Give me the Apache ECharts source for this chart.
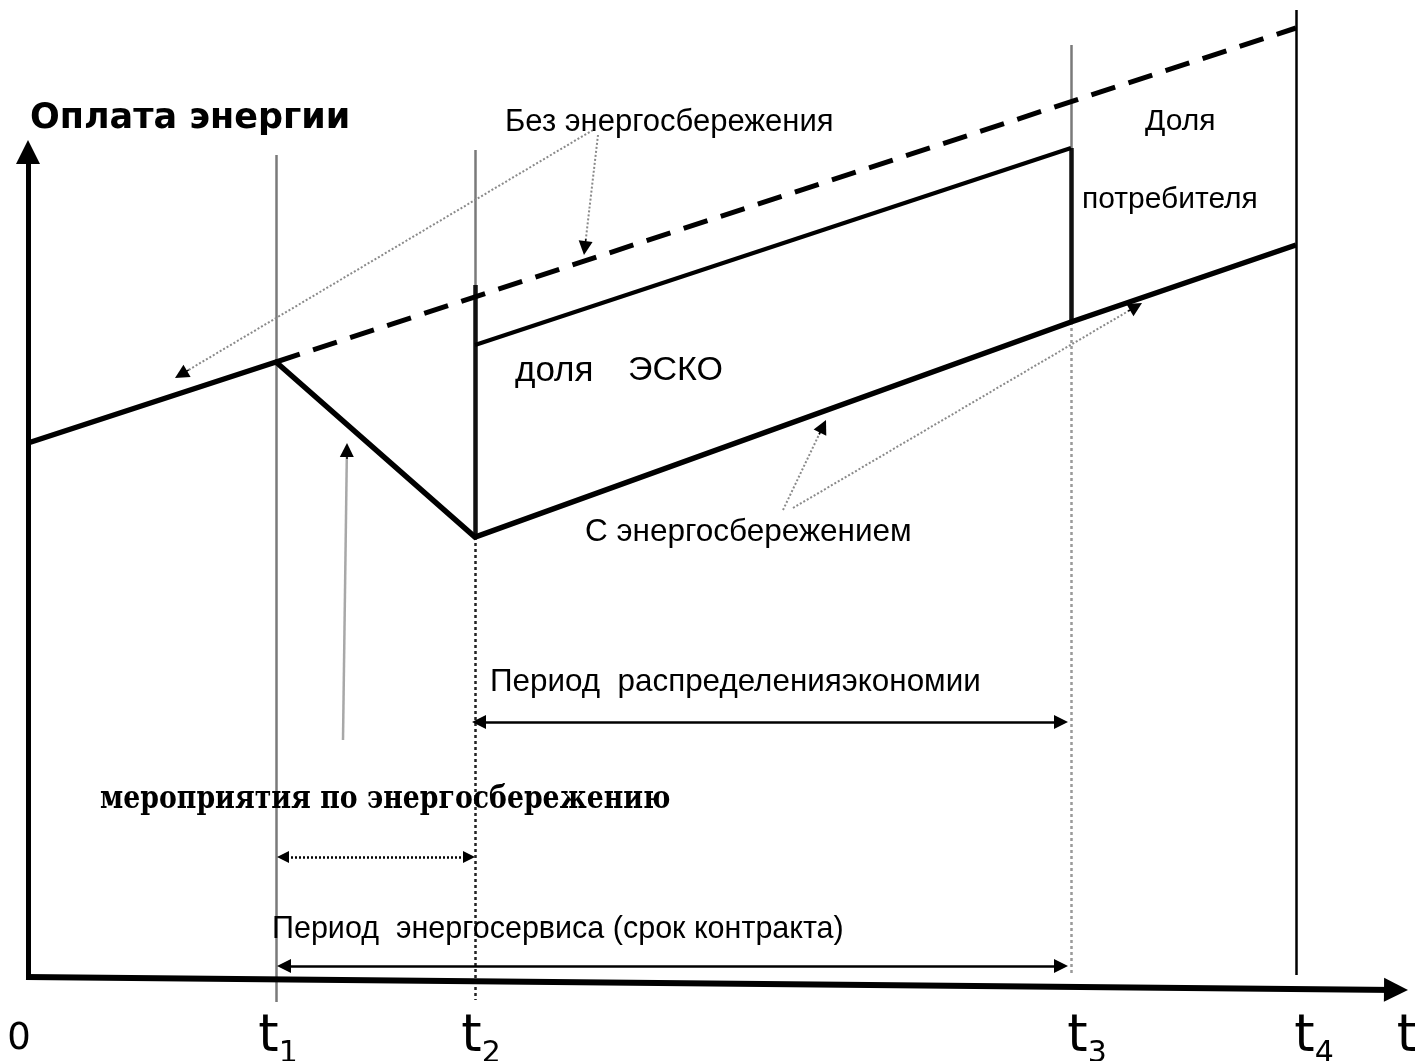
<!DOCTYPE html>
<html><head><meta charset="utf-8">
<script src="https://cdn.jsdelivr.net/npm/echarts@6/dist/echarts.min.js"></script>
<style>html,body{margin:0;padding:0;background:#fff}#c{width:1415px;height:1061px}</style>
</head><body><div id="c"></div>
<script>
// ---- data (x: time units, y: payment units) ----
const tickLabels = ['0', 't1', 't2', 't3', 't4', 't'];
const tickLabelAt = [-0.9, 25.0, 45.3, 105.9, 128.6, 137.9];
const momentNames = ['t1', 't2', 't3', 't4'];
const moments = [24.8, 44.7, 104.3, 126.8];
const withSavingX = [0, 24.8, 44.7, 104.3, 126.8];
const withSavingY = [53.2, 61.3, 43.8, 65.3, 73.0];
const noSavingX = [24.8, 126.8];
const noSavingY = [61.3, 94.7];
const escoTopX = [44.7, 104.3];
const escoTopY = [63.0, 82.7];
const shareJumpTop = [69.0, 82.7];     // at t2, t3
const shareJumpBottom = [43.8, 65.3];  // at t2, t3

// ---- layout of guides / annotations (not data) ----
const guideTop = [82.0, 82.5, 93.0, 96.5];
const guideBottom = [-2.7, -2.5, 0, 0];
const pointers = [
  {from: [56.5, 84.5], to: [14.7, 59.7], dotted: true},
  {from: [57.0, 84.0], to: [55.6, 72.0], dotted: true},
  {from: [31.5, 23.5], to: [31.9, 53.2], dotted: false},
  {from: [75.5, 46.5], to: [79.8, 55.5], dotted: true},
  {from: [76.5, 46.7], to: [111.4, 67.2], dotted: true}
];

const pair = (xs, ys) => xs.map((x, i) => [x, ys[i]]);
function back(p0, p1, d) {
  const dx = p1[0] - p0[0], dy = p1[1] - p0[1], L = Math.hypot(dx, dy);
  return [p1[0] - dx / L * d, p1[1] - dy / L * d];
}
function dbl(a, b, d) { return {coords: [back(b, a, d), back(a, b, d)]}; }

const chart = echarts.init(document.getElementById('c'));

const series = [];
// axes drawn as arrows
series.push({type: 'lines', coordinateSystem: 'cartesian2d', silent: true, z: 6,
  symbol: ['none', 'triangle'], symbolSize: 24,
  lineStyle: {color: '#000', width: 5, opacity: 1},
  data: [{coords: [[0, -0.2], back([0, -0.2], [0, 83.5], 1.2)]}]});
series.push({type: 'lines', coordinateSystem: 'cartesian2d', silent: true, z: 6,
  symbol: ['none', 'triangle'], symbolSize: 24,
  lineStyle: {color: '#000', width: 6, opacity: 1},
  data: [{coords: [[-0.2, -0.2], back([-0.2, -0.2], [138.0, -1.5], 1.2)]}]});
// guides
series.push({type: 'lines', coordinateSystem: 'cartesian2d', silent: true, z: 2,
  lineStyle: {color: '#7a7a7a', width: 2.5, opacity: 1},
  data: [
    {coords: [[moments[0], guideTop[0]], [moments[0], guideBottom[0]]]},
    {coords: [[moments[1], guideTop[1]], [moments[1], shareJumpBottom[0]]]},
    {coords: [[moments[2], guideTop[2]], [moments[2], shareJumpBottom[1]]]}
  ]});
series.push({type: 'lines', coordinateSystem: 'cartesian2d', silent: true, z: 2,
  lineStyle: {color: '#000', width: 2.5, opacity: 1},
  data: [{coords: [[moments[3], guideTop[3]], [moments[3], guideBottom[3]]]}]});
series.push({type: 'lines', coordinateSystem: 'cartesian2d', silent: true, z: 2,
  lineStyle: {color: '#222', width: 2.5, opacity: 1, type: [3, 3]},
  data: [{coords: [[moments[1], shareJumpBottom[0]], [moments[1], guideBottom[1]]]}]});
series.push({type: 'lines', coordinateSystem: 'cartesian2d', silent: true, z: 2,
  lineStyle: {color: '#9a9a9a', width: 2.5, opacity: 1, type: [3, 3]},
  data: [{coords: [[moments[2], shareJumpBottom[1]], [moments[2], guideBottom[2]]]}]});
// main curves
series.push({type: 'line', name: 'С энергосбережением', data: pair(withSavingX, withSavingY),
  symbol: 'none', lineStyle: {color: '#000', width: 5.5, join: 'miter'}, z: 5});
series.push({type: 'line', name: 'Без энергосбережения', data: pair(noSavingX, noSavingY),
  symbol: 'none', lineStyle: {color: '#000', width: 5, type: [25, 14]}, z: 5});
series.push({type: 'line', name: 'доля ЭСКО', data: pair(escoTopX, escoTopY),
  symbol: 'none', lineStyle: {color: '#000', width: 4}, z: 5});
series.push({type: 'lines', coordinateSystem: 'cartesian2d', silent: true, z: 5,
  lineStyle: {color: '#111', width: 4.5, opacity: 1},
  data: [
    {coords: [[escoTopX[0], shareJumpTop[0]], [escoTopX[0], shareJumpBottom[0]]]},
    {coords: [[escoTopX[1], shareJumpTop[1]], [escoTopX[1], shareJumpBottom[1]]]}
  ]});
// pointer shafts
series.push({type: 'lines', coordinateSystem: 'cartesian2d', silent: true, z: 3,
  lineStyle: {color: '#8a8a8a', width: 2, opacity: 1, type: [2, 2]},
  data: pointers.filter(p => p.dotted).map(p => ({coords: [p.from, back(p.from, p.to, 1.0)]}))});
series.push({type: 'lines', coordinateSystem: 'cartesian2d', silent: true, z: 3,
  lineStyle: {color: '#a8a8a8', width: 2.5, opacity: 1},
  data: pointers.filter(p => !p.dotted).map(p => ({coords: [p.from, back(p.from, p.to, 1.0)]}))});
// pointer heads
series.push({type: 'lines', coordinateSystem: 'cartesian2d', silent: true, z: 4,
  symbol: ['none', 'triangle'], symbolSize: 14,
  lineStyle: {color: '#000', width: 1.5, opacity: 1},
  data: pointers.map(p => ({coords: [back(p.from, p.to, 1.6), back(p.from, p.to, 0.7)]}))});
// period double arrows
series.push({type: 'lines', coordinateSystem: 'cartesian2d', silent: true, z: 4,
  symbol: ['triangle', 'triangle'], symbolSize: 14,
  lineStyle: {color: '#000', width: 2.5, opacity: 1},
  data: [dbl([44.4, 25.3], [104.0, 25.3], 0.7), dbl([24.9, 0.9], [104.0, 0.9], 0.7)]});
series.push({type: 'lines', coordinateSystem: 'cartesian2d', silent: true, z: 4,
  symbol: ['triangle', 'triangle'], symbolSize: 12,
  lineStyle: {color: '#000', width: 2.5, opacity: 1, type: [2, 2]},
  data: [dbl([24.9, 11.8], [44.7, 11.8], 0.6)]});

const sans = 'Liberation Sans';
function txt(text, x, y, size, extra, scaleX) {
  return {type: 'text', x: x, y: y, scaleX: scaleX || 1, silent: true, z: 10,
    style: Object.assign({text: text, fontFamily: sans, fontSize: size, fill: '#000',
      align: 'left', verticalAlign: 'middle'}, extra || {})};
}

chart.setOption({
  animation: false,
  backgroundColor: '#fff',
  grid: {left: 0, right: 0, top: 0, bottom: 0, containLabel: false, outerBoundsMode: 'none'},
  xAxis: {
    type: 'value', min: -2.8, max: 138.7, position: 'bottom', offset: -86,
    axisLine: {show: false, onZero: false}, axisTick: {show: false}, splitLine: {show: false},
    axisLabel: {
      customValues: tickLabelAt, margin: 30, color: '#000', hideOverlap: false,
      formatter: function (v) {
        const i = tickLabelAt.indexOf(v);
        const s = i < 0 ? '' : tickLabels[i];
        if (s === '0') return '{z|0}';
        if (s.length > 1) return '{t|t}{s|' + s.slice(1) + '}';
        return '{t|' + s + '}';
      },
      rich: {
        z: {fontFamily: 'DejaVu Sans', fontSize: 37, lineHeight: 53, verticalAlign: 'bottom', color: '#000'},
        t: {fontFamily: 'DejaVu Sans', fontSize: 52, lineHeight: 64, color: '#000'},
        s: {fontFamily: 'DejaVu Sans', fontSize: 30, lineHeight: 28, verticalAlign: 'bottom', color: '#000'}
      }
    }
  },
  yAxis: {type: 'value', min: -8.6, max: 97.5, show: false},
  series: series,
  graphic: [
    txt('Оплата энергии', 30, 119, 35, {fontFamily: 'DejaVu Sans', fontWeight: 'bold'}),
    txt('Без энергосбережения', 505, 122, 31),
    txt('Доля', 1145, 122, 30),
    txt('потребителя', 1082, 200, 30),
    txt('доля', 515, 371, 35),
    txt('ЭСКО', 628, 371, 34),
    txt('С энергосбережением', 585, 532, 31.5),
    txt('Период  распределенияэкономии', 490, 682, 31.4),
    txt('мероприятия по энергосбережению', 100, 800, 32, {fontFamily: 'DejaVu Serif', fontWeight: 'bold'}, 0.836),
    txt('Период  энергосервиса (срок контракта)', 272, 930, 30.5)
  ]
});
</script></body></html>
